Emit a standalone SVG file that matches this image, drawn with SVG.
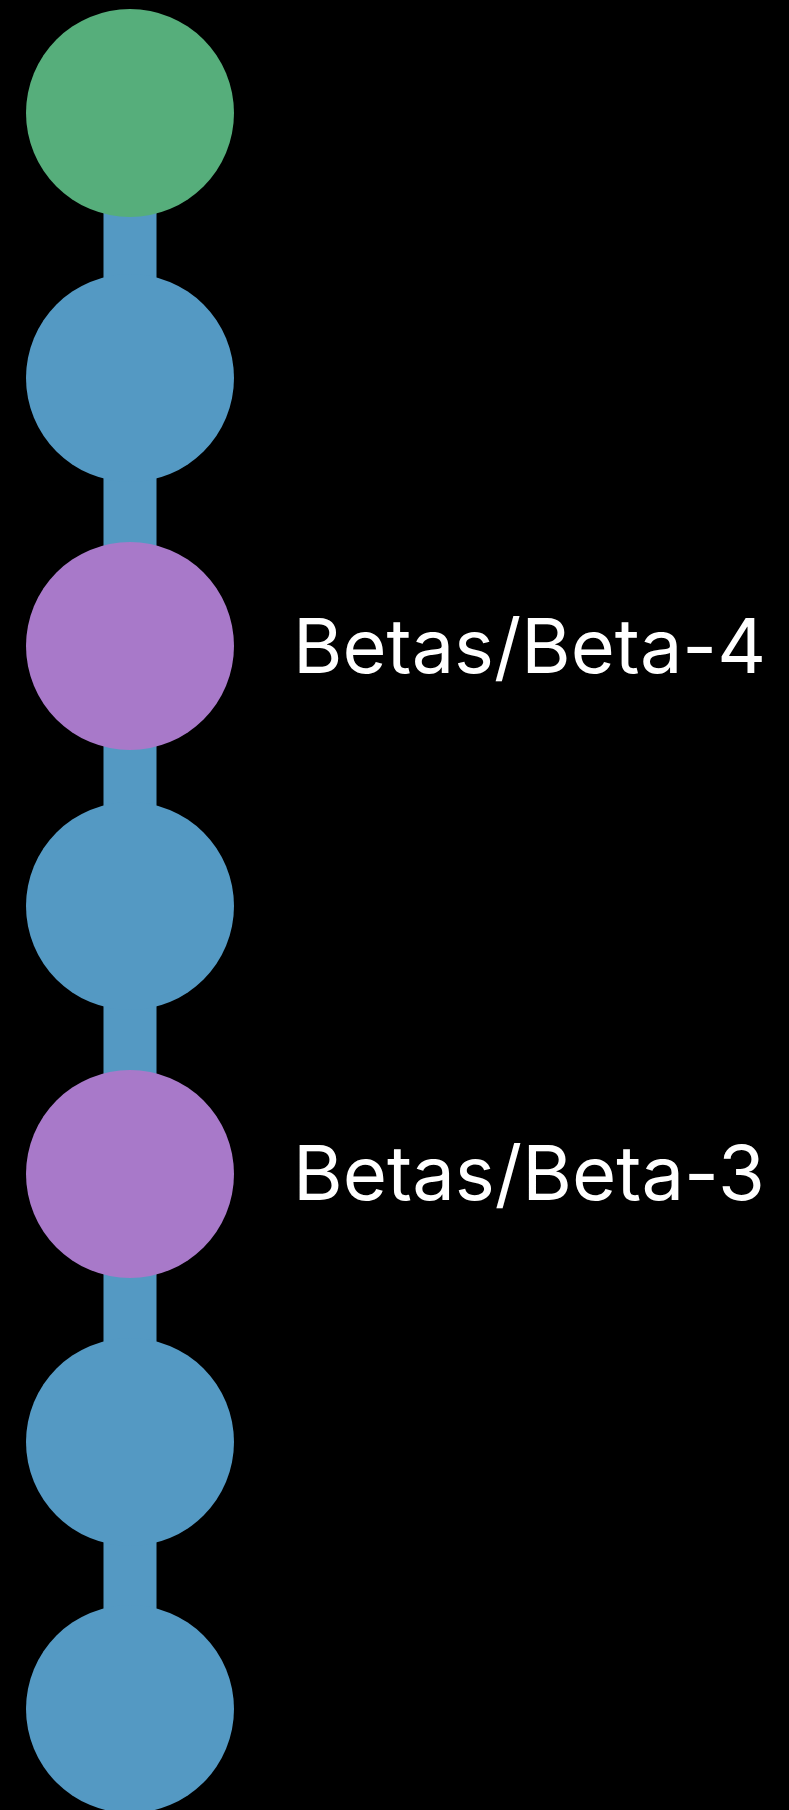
<svg xmlns="http://www.w3.org/2000/svg" width="789" height="1810" viewBox="0 0 789 1810">
<style>
.edge{stroke:#5499C3;stroke-width:53;fill:none}
.blue{fill:#5499C3}
.green{fill:#56AE7B}
.purple{fill:#A879C9}
.label{fill:#FFFFFF;font-family:Inter,"Liberation Sans",sans-serif;font-size:75px}
</style>
<rect x="0" y="0" width="789" height="1810" fill="#000000"/>
<g id="connectors">
<line class="edge" x1="130" y1="113" x2="130" y2="378"/>
<line class="edge" x1="130" y1="378" x2="130" y2="646"/>
<line class="edge" x1="130" y1="646" x2="130" y2="906"/>
<line class="edge" x1="130" y1="906" x2="130" y2="1174"/>
<line class="edge" x1="130" y1="1174" x2="130" y2="1442"/>
<line class="edge" x1="130" y1="1442" x2="130" y2="1709"/>
</g>
<g id="node1"><circle class="green" cx="130" cy="113" r="104"/></g>
<g id="node2"><circle class="blue" cx="130" cy="378" r="104"/></g>
<g id="node3"><circle class="purple" cx="130" cy="646" r="104"/><text class="label" x="293" y="673" textLength="473" lengthAdjust="spacingAndGlyphs">Betas/Beta-4</text></g>
<g id="node4"><circle class="blue" cx="130" cy="906" r="104"/></g>
<g id="node5"><circle class="purple" cx="130" cy="1174" r="104"/><text class="label" x="293" y="1200" textLength="472" lengthAdjust="spacingAndGlyphs">Betas/Beta-3</text></g>
<g id="node6"><circle class="blue" cx="130" cy="1442" r="104"/></g>
<g id="node7"><circle class="blue" cx="130" cy="1709" r="104"/></g>
</svg>
